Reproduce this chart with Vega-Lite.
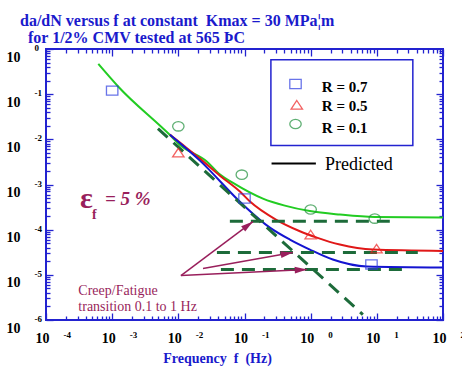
{
  "$schema": "https://vega.github.io/schema/vega-lite/v6.json",
  "width": 397,
  "height": 271,
  "autosize": {"type": "none"},
  "padding": {"left": 46, "top": 49, "right": 19, "bottom": 52},
  "background": "white",
  "config": {
    "view": {"stroke": "#2323d0", "strokeWidth": 2},
    "axis": {"grid": false, "domain": false, "labelOverlap": false, "labelBound": false, "labelFlush": false, "labelFont": "Liberation Serif", "labelFontWeight": "bold", "labelColor": "black", "tickColor": "#2323d0", "tickWidth": 1.3}
  },
  "title": {
    "text": ["da/dN versus f at constant \u00a0Kmax = 30 MPa¦m", "\u200b\u00a0\u00a0for 1/2% CMV tested at 565 ÞC"],
    "anchor": "start", "frame": "group", "dx": -26, "offset": -2,
    "font": "Liberation Serif", "fontSize": 16, "fontWeight": "bold", "color": "#1a1acc", "lineHeight": 17
  },
  "datasets": {
    "lines": [
      {"s": "g", "f": 0.000617, "v": 0.468},
      {"s": "g", "f": 0.00123, "v": 0.148},
      {"s": "g", "f": 0.00741, "v": 0.0126},
      {"s": "g", "f": 0.01047, "v": 0.00759},
      {"s": "g", "f": 0.0269, "v": 0.00324},
      {"s": "g", "f": 0.0427, "v": 0.00166},
      {"s": "g", "f": 0.0661, "v": 0.0011},
      {"s": "g", "f": 0.19, "v": 0.000488},
      {"s": "g", "f": 0.407, "v": 0.000341},
      {"s": "g", "f": 0.973, "v": 0.000258},
      {"s": "g", "f": 2.76, "v": 0.000216},
      {"s": "g", "f": 9.33, "v": 0.00019},
      {"s": "g", "f": 100, "v": 0.000185},
      {"s": "r", "f": 0.00746, "v": 0.0127},
      {"s": "r", "f": 0.01057, "v": 0.00845},
      {"s": "r", "f": 0.0212, "v": 0.00374},
      {"s": "r", "f": 0.0425, "v": 0.00157},
      {"s": "r", "f": 0.0853, "v": 0.000697},
      {"s": "r", "f": 0.121, "v": 0.000419},
      {"s": "r", "f": 0.298, "v": 0.000167},
      {"s": "r", "f": 0.687, "v": 0.0000923},
      {"s": "r", "f": 1.24, "v": 0.0000668},
      {"s": "r", "f": 2.76, "v": 0.0000468},
      {"s": "r", "f": 8.71, "v": 0.0000363},
      {"s": "r", "f": 100, "v": 0.0000339},
      {"s": "b", "f": 0.00746, "v": 0.0127},
      {"s": "b", "f": 0.0212, "v": 0.00338},
      {"s": "b", "f": 0.0946, "v": 0.000359},
      {"s": "b", "f": 0.242, "v": 0.000111},
      {"s": "b", "f": 0.485, "v": 0.0000604},
      {"s": "b", "f": 0.973, "v": 0.0000363},
      {"s": "b", "f": 2.16, "v": 0.0000218},
      {"s": "b", "f": 7.06, "v": 0.0000153},
      {"s": "b", "f": 100, "v": 0.0000145}
    ],
    "dashes": [
      {"id": "d", "f": 0.00492, "v": 0.01726},
      {"id": "d", "f": 6.15, "v": 0.00000132},
      {"id": "h1", "f": 0.0601, "v": 0.000153},
      {"id": "h1", "f": 15.7, "v": 0.000153},
      {"id": "h2", "f": 0.0383, "v": 0.0000311},
      {"id": "h2", "f": 41.6, "v": 0.0000311},
      {"id": "h3", "f": 0.044, "v": 0.0000131},
      {"id": "h3", "f": 28.4, "v": 0.0000131}
    ],
    "points": [
      {"R": "R = 0.7", "f": 0.001, "v": 0.12},
      {"R": "R = 0.7", "f": 0.1, "v": 0.00049},
      {"R": "R = 0.7", "f": 8.3, "v": 0.000017},
      {"R": "R = 0.5", "f": 0.01, "v": 0.0051},
      {"R": "R = 0.5", "f": 1.0, "v": 0.000078},
      {"R": "R = 0.5", "f": 9.9, "v": 0.000038},
      {"R": "R = 0.1", "f": 0.01, "v": 0.0194},
      {"R": "R = 0.1", "f": 0.091, "v": 0.00165},
      {"R": "R = 0.1", "f": 1.0, "v": 0.00028},
      {"R": "R = 0.1", "f": 9.3, "v": 0.000176}
    ],
    "legpts": [
      {"R": "R = 0.7", "f": 0.59, "v": 0.168, "lf": 1.476, "lv": 0.1096},
      {"R": "R = 0.5", "f": 0.617, "v": 0.0582, "lf": 1.476, "lv": 0.0416},
      {"R": "R = 0.1", "f": 0.59, "v": 0.0218, "lf": 1.476, "lv": 0.01386}
    ],
    "arrows": [
      {"f": 0.01094, "v": 0.00000964, "f2": 0.134, "v2": 0.000151, "hf": 0.1132, "hv": 0.000126, "a": -37},
      {"f": 0.0236, "v": 0.0000138, "f2": 0.538, "v2": 0.0000311, "hf": 0.4365, "hv": 0.0000296, "a": -10},
      {"f": 0.01094, "v": 0.00000964, "f2": 0.877, "v2": 0.0000131, "hf": 0.711, "hv": 0.0000129, "a": -3}
    ],
    "box": [{"f": 0.2506, "f2": 35.0, "v": 0.58, "v2": 0.00726}],
    "pred": [{"f": 0.2564, "f2": 1.199, "v": 0.0029, "tf": 1.64, "tv": 0.00206, "t": "Predicted"}],
    "creep": [
      {"f": 0.000308, "v": 0.00000366, "t": "Creep/Fatigue"},
      {"f": 0.000308, "v": 0.00000162, "t": "transition 0.1 to 1 Hz"}
    ],
    "eps": [{"f": 0.000327, "v": 0.000308, "t": "ε"}],
    "epsf": [{"f": 0.000496, "v": 0.000176, "t": "f"}],
    "epsv": [{"f": 0.000778, "v": 0.000359, "t": "= 5 %"}]
  },
  "resolve": {"axis": {"x": "independent", "y": "independent"}},
  "layer": [
    {
      "data": {"name": "lines"},
      "mark": {"type": "line", "strokeWidth": 2, "interpolate": "monotone"},
      "encoding": {
        "x": {"field": "f", "type": "quantitative", "scale": {"type": "log", "domain": [0.0001, 100], "nice": false},
          "axis": {"orient": "bottom",
            "values": [0.0001,0.0002,0.0003,0.0004,0.0005,0.0006,0.0007,0.0008,0.0009,0.001,0.002,0.003,0.004,0.005,0.006,0.007,0.008,0.009,0.01,0.02,0.03,0.04,0.05,0.06,0.07,0.08,0.09,0.1,0.2,0.3,0.4,0.5,0.6,0.7,0.8,0.9,1,2,3,4,5,6,7,8,9,10,20,30,40,50,60,70,80,90,100],
            "labelExpr": "abs(log(datum.value)/LN10 - round(log(datum.value)/LN10)) < 0.001 ? '10' : ''",
            "tickSize": {"condition": {"test": "abs(log(datum.value)/LN10 - round(log(datum.value)/LN10)) < 0.001", "value": -7}, "value": -4},
            "labelFontSize": 14, "labelBaseline": "alphabetic", "labelPadding": 29, "labelOffset": -4,
            "title": "Frequency\u00a0 f\u00a0 (Hz)", "titleFont": "Liberation Serif", "titleFontSize": 14, "titleFontWeight": "bold", "titleColor": "#1a1acc",
            "titleX": 171, "titleY": 42, "titleBaseline": "alphabetic", "titleAlign": "center", "titleAnchor": null}},
        "y": {"field": "v", "type": "quantitative", "scale": {"type": "log", "domain": [0.000001, 1], "nice": false},
          "axis": {"orient": "left",
            "values": [0.000001,0.000002,0.000003,0.000004,0.000005,0.000006,0.000007,0.000008,0.000009,0.00001,0.00002,0.00003,0.00004,0.00005,0.00006,0.00007,0.00008,0.00009,0.0001,0.0002,0.0003,0.0004,0.0005,0.0006,0.0007,0.0008,0.0009,0.001,0.002,0.003,0.004,0.005,0.006,0.007,0.008,0.009,0.01,0.02,0.03,0.04,0.05,0.06,0.07,0.08,0.09,0.1,0.2,0.3,0.4,0.5,0.6,0.7,0.8,0.9,1],
            "labelExpr": "abs(log(datum.value)/LN10 - round(log(datum.value)/LN10)) < 0.001 ? '10' : ''",
            "tickSize": {"condition": {"test": "abs(log(datum.value)/LN10 - round(log(datum.value)/LN10)) < 0.001", "value": -7}, "value": -4},
            "labelFontSize": 14, "labelBaseline": "alphabetic", "labelAlign": "right", "labelPadding": 33, "labelOffset": 12,
            "title": null}},
        "color": {"field": "s", "type": "nominal", "scale": {"domain": ["g", "r", "b"], "range": ["#22cc22", "#e01818", "#1414d0"]}, "legend": null}
      }
    },
    {
      "data": {"name": "dashes"},
      "mark": {"type": "line", "strokeWidth": 3, "strokeDash": [13, 8], "color": "#1d6b3a"},
      "encoding": {
        "x": {"field": "f", "type": "quantitative", "scale": {"type": "log", "domain": [0.0001, 100], "nice": false},
          "axis": {"orient": "bottom", "values": [0.0001, 0.001, 0.01, 0.1, 1, 10, 100], "ticks": false,
            "labelExpr": "'' + round(log(datum.value)/LN10)", "labelFontSize": 9, "labelAlign": "left", "labelOffset": 17,
            "labelBaseline": "alphabetic", "labelPadding": 17.5, "title": null}},
        "y": {"field": "v", "type": "quantitative", "scale": {"type": "log", "domain": [0.000001, 1], "nice": false},
          "axis": {"orient": "left", "values": [0.000001, 0.00001, 0.0001, 0.001, 0.01, 0.1, 1], "ticks": false,
            "labelExpr": "'' + round(log(datum.value)/LN10)", "labelFontSize": 9, "labelAlign": "left", "labelOffset": 1.5,
            "labelBaseline": "alphabetic", "labelPadding": 12, "title": null}},
        "detail": {"field": "id"}
      }
    },
    {
      "data": {"name": "points"},
      "mark": {"type": "point", "filled": false, "strokeWidth": 1.3, "size": 130},
      "encoding": {
        "x": {"field": "f", "type": "quantitative", "scale": {"type": "log", "domain": [0.0001, 100], "nice": false},
          "axis": {"orient": "top",
            "values": [0.0001,0.0002,0.0003,0.0004,0.0005,0.0006,0.0007,0.0008,0.0009,0.001,0.002,0.003,0.004,0.005,0.006,0.007,0.008,0.009,0.01,0.02,0.03,0.04,0.05,0.06,0.07,0.08,0.09,0.1,0.2,0.3,0.4,0.5,0.6,0.7,0.8,0.9,1,2,3,4,5,6,7,8,9,10,20,30,40,50,60,70,80,90,100],
            "labels": false,
            "tickSize": {"condition": {"test": "abs(log(datum.value)/LN10 - round(log(datum.value)/LN10)) < 0.001", "value": -7}, "value": -4},
            "title": null}},
        "y": {"field": "v", "type": "quantitative", "scale": {"type": "log", "domain": [0.000001, 1], "nice": false},
          "axis": {"orient": "right",
            "values": [0.000001,0.000002,0.000003,0.000004,0.000005,0.000006,0.000007,0.000008,0.000009,0.00001,0.00002,0.00003,0.00004,0.00005,0.00006,0.00007,0.00008,0.00009,0.0001,0.0002,0.0003,0.0004,0.0005,0.0006,0.0007,0.0008,0.0009,0.001,0.002,0.003,0.004,0.005,0.006,0.007,0.008,0.009,0.01,0.02,0.03,0.04,0.05,0.06,0.07,0.08,0.09,0.1,0.2,0.3,0.4,0.5,0.6,0.7,0.8,0.9,1],
            "labels": false,
            "tickSize": {"condition": {"test": "abs(log(datum.value)/LN10 - round(log(datum.value)/LN10)) < 0.001", "value": -7}, "value": -4},
            "title": null}},
        "shape": {"field": "R", "type": "nominal", "scale": {"domain": ["R = 0.7", "R = 0.5", "R = 0.1"], "range": ["M-1,-0.8H1V0.8H-1Z", "M0,-0.75L1,0.75L-1,0.75Z", "M-1,0A1,0.82 0 1,0 1,0A1,0.82 0 1,0 -1,0Z"]}, "legend": null},
        "stroke": {"field": "R", "type": "nominal", "scale": {"domain": ["R = 0.7", "R = 0.5", "R = 0.1"], "range": ["#2a3ae0", "#ee2020", "#1e8f3a"]}, "legend": null}
      }
    },
    {
      "data": {"name": "legpts"},
      "mark": {"type": "point", "filled": false, "strokeWidth": 1.3, "size": 130},
      "encoding": {
        "x": {"field": "f", "type": "quantitative", "scale": {"type": "log", "domain": [0.0001, 100], "nice": false}, "axis": null},
        "y": {"field": "v", "type": "quantitative", "scale": {"type": "log", "domain": [0.000001, 1], "nice": false}, "axis": null},
        "shape": {"field": "R", "type": "nominal", "legend": null},
        "stroke": {"field": "R", "type": "nominal", "legend": null}
      }
    },
    {
      "data": {"name": "legpts"},
      "mark": {"type": "text", "font": "Liberation Serif", "fontWeight": "bold", "fontSize": 15, "align": "left", "baseline": "alphabetic", "color": "black"},
      "encoding": {
        "x": {"field": "lf", "type": "quantitative", "scale": {"type": "log", "domain": [0.0001, 100], "nice": false}, "axis": null},
        "y": {"field": "lv", "type": "quantitative", "scale": {"type": "log", "domain": [0.000001, 1], "nice": false}, "axis": null},
        "text": {"field": "R"}
      }
    },
    {
      "data": {"name": "box"},
      "mark": {"type": "rect", "filled": false, "stroke": "#2323d0", "strokeWidth": 1.5},
      "encoding": {
        "x": {"field": "f", "type": "quantitative", "scale": {"type": "log", "domain": [0.0001, 100], "nice": false}, "axis": null},
        "x2": {"field": "f2"},
        "y": {"field": "v", "type": "quantitative", "scale": {"type": "log", "domain": [0.000001, 1], "nice": false}, "axis": null},
        "y2": {"field": "v2"}
      }
    },
    {
      "data": {"name": "pred"},
      "mark": {"type": "rule", "color": "black", "strokeWidth": 2},
      "encoding": {
        "x": {"field": "f", "type": "quantitative", "scale": {"type": "log", "domain": [0.0001, 100], "nice": false}, "axis": null},
        "x2": {"field": "f2"},
        "y": {"field": "v", "type": "quantitative", "scale": {"type": "log", "domain": [0.000001, 1], "nice": false}, "axis": null}
      }
    },
    {
      "data": {"name": "pred"},
      "mark": {"type": "text", "font": "Liberation Serif", "fontSize": 18, "align": "left", "baseline": "alphabetic", "color": "black"},
      "encoding": {
        "x": {"field": "tf", "type": "quantitative", "scale": {"type": "log", "domain": [0.0001, 100], "nice": false}, "axis": null},
        "y": {"field": "tv", "type": "quantitative", "scale": {"type": "log", "domain": [0.000001, 1], "nice": false}, "axis": null},
        "text": {"field": "t"}
      }
    },
    {
      "data": {"name": "arrows"},
      "mark": {"type": "rule", "color": "#991f5c", "strokeWidth": 1.5},
      "encoding": {
        "x": {"field": "f", "type": "quantitative", "scale": {"type": "log", "domain": [0.0001, 100], "nice": false}, "axis": null},
        "x2": {"field": "f2"},
        "y": {"field": "v", "type": "quantitative", "scale": {"type": "log", "domain": [0.000001, 1], "nice": false}, "axis": null},
        "y2": {"field": "v2"}
      }
    },
    {
      "data": {"name": "arrows"},
      "mark": {"type": "point", "filled": true, "color": "#991f5c", "opacity": 1, "size": 150, "shape": "M-1,-0.55L1,0L-1,0.55Z"},
      "encoding": {
        "x": {"field": "hf", "type": "quantitative", "scale": {"type": "log", "domain": [0.0001, 100], "nice": false}, "axis": null},
        "y": {"field": "hv", "type": "quantitative", "scale": {"type": "log", "domain": [0.000001, 1], "nice": false}, "axis": null},
        "angle": {"field": "a", "type": "quantitative", "scale": null}
      }
    },
    {
      "data": {"name": "creep"},
      "mark": {"type": "text", "font": "Liberation Serif", "fontSize": 14, "align": "left", "baseline": "alphabetic", "color": "#991f5c"},
      "encoding": {
        "x": {"field": "f", "type": "quantitative", "scale": {"type": "log", "domain": [0.0001, 100], "nice": false}, "axis": null},
        "y": {"field": "v", "type": "quantitative", "scale": {"type": "log", "domain": [0.000001, 1], "nice": false}, "axis": null},
        "text": {"field": "t"}
      }
    },
    {
      "data": {"name": "eps"},
      "mark": {"type": "text", "font": "Liberation Serif", "fontSize": 30, "fontWeight": "bold", "align": "left", "baseline": "alphabetic", "color": "#991f5c"},
      "encoding": {
        "x": {"field": "f", "type": "quantitative", "scale": {"type": "log", "domain": [0.0001, 100], "nice": false}, "axis": null},
        "y": {"field": "v", "type": "quantitative", "scale": {"type": "log", "domain": [0.000001, 1], "nice": false}, "axis": null},
        "text": {"field": "t"}
      }
    },
    {
      "data": {"name": "epsf"},
      "mark": {"type": "text", "font": "Liberation Serif", "fontSize": 14, "fontWeight": "bold", "align": "left", "baseline": "alphabetic", "color": "#991f5c"},
      "encoding": {
        "x": {"field": "f", "type": "quantitative", "scale": {"type": "log", "domain": [0.0001, 100], "nice": false}, "axis": null},
        "y": {"field": "v", "type": "quantitative", "scale": {"type": "log", "domain": [0.000001, 1], "nice": false}, "axis": null},
        "text": {"field": "t"}
      }
    },
    {
      "data": {"name": "epsv"},
      "mark": {"type": "text", "font": "Liberation Serif", "fontSize": 19, "fontWeight": "bold", "fontStyle": "italic", "align": "left", "baseline": "alphabetic", "color": "#991f5c"},
      "encoding": {
        "x": {"field": "f", "type": "quantitative", "scale": {"type": "log", "domain": [0.0001, 100], "nice": false}, "axis": null},
        "y": {"field": "v", "type": "quantitative", "scale": {"type": "log", "domain": [0.000001, 1], "nice": false}, "axis": null},
        "text": {"field": "t"}
      }
    }
  ]
}
